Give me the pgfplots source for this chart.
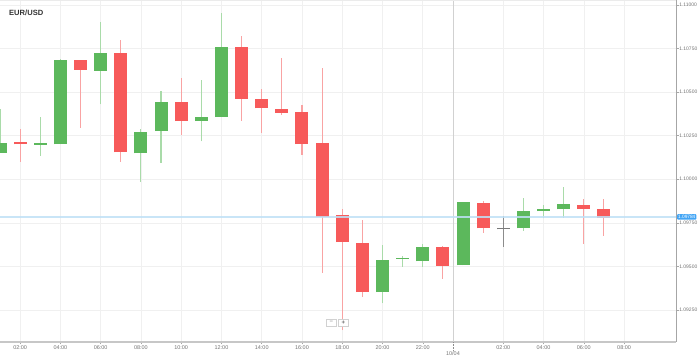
\documentclass[border=0pt]{standalone}
\usepackage{pgfplots}
\pgfplotsset{compat=1.18}
\usepackage{pgfplotstable}
\usepackage{fontspec}
\setmainfont{Liberation Sans}
\definecolor{cgreen}{HTML}{5CB85C}
\definecolor{cred}{HTML}{F75A5A}
\definecolor{wgreen}{HTML}{A9DBA9}
\definecolor{wred}{HTML}{F9A3A3}
\definecolor{cgray}{HTML}{7A7A7A}
\definecolor{pblue}{HTML}{42A5F5}
\definecolor{pline}{HTML}{BFE0F6}

% hourly candles: k = candle index, o h l c = open high low close
\pgfplotstableread{
k o h l c
0 1.10153 1.10403 1.10153 1.10210
2 1.10198 1.10359 1.10134 1.10206
3 1.10201 1.10690 1.10201 1.10683
5 1.10623 1.10902 1.10430 1.10723
7 1.10149 1.10289 1.09983 1.10273
8 1.10277 1.10507 1.10095 1.10443
10 1.10334 1.10570 1.10218 1.10357
11 1.10356 1.10956 1.10356 1.10761
19 1.09353 1.09623 1.09288 1.09537
20 1.09545 1.09560 1.09498 1.09551
21 1.09529 1.09629 1.09498 1.09610
23 1.09506 1.09868 1.09506 1.09868
26 1.09719 1.09894 1.09705 1.09818
27 1.09818 1.09852 1.09776 1.09828
28 1.09828 1.09957 1.09778 1.09858
}\greentab

\pgfplotstableread{
k o h l c
1 1.10212 1.10289 1.10101 1.10201
4 1.10683 1.10683 1.10296 1.10629
6 1.10723 1.10799 1.10101 1.10155
9 1.10442 1.10583 1.10254 1.10333
12 1.10759 1.10822 1.10336 1.10461
13 1.10461 1.10516 1.10264 1.10407
14 1.10405 1.10696 1.10369 1.10382
15 1.10388 1.10426 1.10138 1.10202
16 1.10206 1.10637 1.09464 1.09785
17 1.09793 1.09830 1.09135 1.09640
18 1.09636 1.09766 1.09326 1.09353
22 1.09610 1.09617 1.09430 1.09504
24 1.09862 1.09877 1.09694 1.09719
29 1.09851 1.09889 1.09629 1.09830
30 1.09828 1.09889 1.09676 1.09780
}\redtab

\pgfplotstableread{
k o h l c
25 1.09719 1.09791 1.09613 1.09713
}\graytab

\pgfplotsset{candle/.style={draw=none, mark=none, forget plot,
   error bars/.cd, y dir=plus, y explicit, error mark=none}}

\begin{document}
\begin{tikzpicture}
\path[use as bounding box] (0,0) rectangle (699bp,360bp);
\begin{axis}[
  at={(0bp,18bp)}, anchor=south west,
  width=676bp, height=342bp, scale only axis,
  xmin=0, xmax=33.58, ymin=1.090664, ymax=1.110287,
  clip mode=individual,
  axis x line*=bottom, axis y line*=right,
  axis line style={-},
  x axis line style={draw=black!22, line width=1.6bp},
  y axis line style={draw=black!35, line width=0.8bp},
  xtick={1,3,5,7,9,11,13,15,17,19,21,25,27,29,31},
  xticklabels={02:00,04:00,06:00,08:00,10:00,12:00,14:00,16:00,18:00,20:00,22:00,02:00,04:00,06:00,08:00},
  extra x ticks={22.5},
  extra x tick labels={10/04},
  extra x tick style={grid=major, major grid style={draw=black!18, line width=0.8bp},
     major tick length=8bp, tick style={densely dotted, draw=black!45, line width=0.6bp}},
  ytick={1.0925,1.095,1.0975,1.1,1.1025,1.105,1.1075,1.11},
  scaled y ticks=false,
  xmajorgrids, ymajorgrids,
  major grid style={draw=black!6, line width=0.6bp},
  tick align=outside, major tick length=2.5bp,
  tick style={draw=black!35, line width=0.5bp},
  xticklabel style={font=\fontsize{5.5}{6}\selectfont, text=black!55, inner sep=1bp},
  yticklabel style={font=\fontsize{5}{6}\selectfont, text=black!55, inner sep=0.6bp, anchor=west,
     /pgf/number format/.cd, fixed, fixed zerofill, precision=5, assume math mode=true},
]
% wicks
\addplot[candle, error bar style={draw=wgreen, line width=1.1bp}]
  table[x=k, y=l, y error expr=\thisrow{h}-\thisrow{l}] {\greentab};
\addplot[candle, error bar style={draw=wred, line width=1.1bp}]
  table[x=k, y=l, y error expr=\thisrow{h}-\thisrow{l}] {\redtab};
\addplot[candle, error bar style={draw=black!45, line width=1.1bp}]
  table[x=k, y=l, y error expr=\thisrow{h}-\thisrow{l}] {\graytab};
% bodies
\addplot[candle, error bar style={draw=cgreen, line width=13bp}]
  table[x=k, y=o, y error expr=\thisrow{c}-\thisrow{o}] {\greentab};
\addplot[candle, error bar style={draw=cred, line width=13bp}]
  table[x=k, y=c, y error expr=\thisrow{o}-\thisrow{c}] {\redtab};
\addplot[candle, error bar style={draw=cgray, line width=13bp}]
  table[x=k, y=c, y error expr=\thisrow{o}-\thisrow{c}] {\graytab};
% current price line
\addplot[pline, line width=1.3bp, opacity=0.85, forget plot] coordinates {(0,1.09784) (33.58,1.09784)};
\draw[black!8, line width=0.8bp] (rel axis cs:0,1) -- (rel axis cs:1,1);
\node[fill=pblue, text=white, font=\fontsize{4.8}{5}\selectfont, inner sep=1.1bp, anchor=west,
  rounded corners=1bp, xshift=0.8bp] at (axis cs:33.58,1.09784) {1.09784};
\end{axis}
\node[anchor=west, inner sep=0, font=\bfseries\fontsize{7.6}{8}\selectfont, text=black!80] at (9bp,347bp) {EUR/USD};
\node[draw=black!18, fill=white, minimum width=10bp, minimum height=7.5bp, inner sep=0,
  font=\fontsize{6}{6}\selectfont, text=black!60] at (331.3bp,37.5bp) {−};
\node[draw=black!18, fill=white, minimum width=10.5bp, minimum height=7.5bp, inner sep=0,
  font=\bfseries\fontsize{6}{6}\selectfont, text=black!60] at (343.3bp,37.5bp) {+};
\end{tikzpicture}
\end{document}
